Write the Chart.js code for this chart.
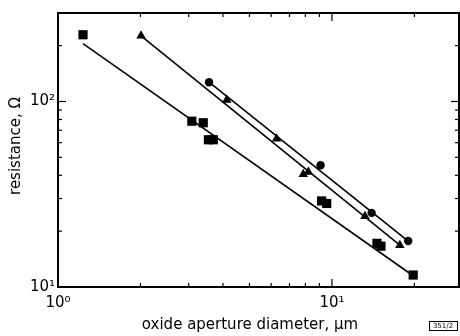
<!DOCTYPE html>
<html><head><meta charset="utf-8">
<script src="https://cdn.jsdelivr.net/npm/chart.js@4/dist/chart.umd.min.js"></script>
<style>html,body{margin:0;padding:0;background:#fff}</style>
</head><body>
<canvas id="c" width="460" height="336"></canvas>
<script>
// Squares
const squareX = [1.234, 3.08, 3.39, 3.54, 3.69, 9.17, 9.57, 14.6, 15.1, 19.8];
const squareY = [229, 78.3, 76.8, 62.2, 62.2, 29.1, 28.2, 17.2, 16.6, 11.6];
// Triangles
const triX = [2.01, 4.13, 6.28, 7.86, 8.2, 13.2, 17.7];
const triY = [226, 102, 63, 40.5, 41.7, 24.1, 16.8];
// Circles
const circX = [3.56, 9.09, 13.96, 18.99];
const circY = [127, 45.3, 25.1, 17.7];
// Fitted lines (endpoints)
const squareFitX = [1.234, 19.8];
const squareFitY = [205, 11.5];
const triFitX = [2.01, 17.7];
const triFitY = [226, 16.8];
const circFitX = [3.56, 18.99];
const circFitY = [127, 17.7];
// Axis ranges & labels
const xRange = [1, 29.1];
const yRange = [10, 300];
const xLabels = {1: '10\u2070', 10: '10\u00B9'};
const yLabels = {10: '10\u00B9', 100: '10\u00B2'};
const xTitle = 'oxide aperture diameter, \u03BCm';
const yTitle = 'resistance, \u03A9';
const figTag = '351/2';

const pts = (xs, ys) => xs.map((x, i) => ({x, y: ys[i]}));
const FONT = '"DejaVu Sans", sans-serif';

const frame = {
  id: 'frame',
  afterDraw(chart) {
    const {ctx, chartArea: a, scales: {x, y}} = chart;
    ctx.save();
    ctx.strokeStyle = '#000';
    ctx.lineWidth = 2;
    ctx.strokeRect(a.left, a.top, a.right - a.left, a.bottom - a.top);
    ctx.lineWidth = 1.2;
    const ln = (x1, y1, x2, y2) => { ctx.beginPath(); ctx.moveTo(x1, y1); ctx.lineTo(x2, y2); ctx.stroke(); };
    const info = v => {
      const e = Math.floor(Math.log10(v) + 1e-9);
      const lead = v / Math.pow(10, e);
      return {ok: Math.abs(lead - Math.round(lead)) < 1e-6, major: Math.abs(lead - 1) < 1e-6};
    };
    x.ticks.forEach(t => {
      const v = t.value; if (v <= x.min || v >= x.max) return;
      const f = info(v); if (!f.ok) return;
      const p = x.getPixelForValue(v), L = f.major ? 8 : 4;
      ln(p, a.bottom, p, a.bottom - L); ln(p, a.top, p, a.top + L);
    });
    y.ticks.forEach(t => {
      const v = t.value; if (v <= y.min || v >= y.max) return;
      const f = info(v); if (!f.ok) return;
      const p = y.getPixelForValue(v), L = f.major ? 8 : 4;
      ln(a.left, p, a.left + L, p); ln(a.right, p, a.right - L, p);
    });
    ctx.fillStyle = '#000';
    ctx.font = '15px ' + FONT;
    ctx.textAlign = 'center'; ctx.textBaseline = 'middle';
    ctx.fillText(xTitle, 250, 325);
    ctx.save();
    ctx.translate(16, 146); ctx.rotate(-Math.PI / 2);
    ctx.fillText(yTitle, 0, 0);
    ctx.restore();
    ctx.font = '7px ' + FONT;
    ctx.fillText(figTag, 443, 326);
    ctx.lineWidth = 1;
    ctx.strokeRect(429.5, 321.5, 28, 9);
    ctx.restore();
  }
};

new Chart(document.getElementById('c'), {
  data: {
    datasets: [
      {type: 'line', data: pts(squareFitX, squareFitY), borderColor: '#000', borderWidth: 1.6, pointRadius: 0, fill: false, order: 2},
      {type: 'line', data: pts(triFitX, triFitY), borderColor: '#000', borderWidth: 1.6, pointRadius: 0, fill: false, order: 2},
      {type: 'line', data: pts(circFitX, circFitY), borderColor: '#000', borderWidth: 1.6, pointRadius: 0, fill: false, order: 2},
      {type: 'scatter', data: pts(squareX, squareY), pointStyle: 'rect', pointRadius: 6.5, backgroundColor: '#000', borderColor: '#000', borderWidth: 0, order: 1},
      {type: 'scatter', data: pts(triX, triY), pointStyle: 'triangle', pointRadius: 5.5, backgroundColor: '#000', borderColor: '#000', borderWidth: 0, order: 1},
      {type: 'scatter', data: pts(circX, circY), pointStyle: 'circle', pointRadius: 4.2, backgroundColor: '#000', borderColor: '#000', borderWidth: 0, order: 1}
    ]
  },
  options: {
    responsive: false,
    animation: false,
    events: [],
    layout: {autoPadding: false, padding: {top: 13, right: 1, left: 0, bottom: 0}},
    plugins: {legend: {display: false}, tooltip: {enabled: false}},
    scales: {
      x: {
        type: 'logarithmic', position: 'bottom', min: xRange[0], max: xRange[1],
        grid: {display: false, drawTicks: false},
        border: {display: false},
        afterFit: s => { s.height = 49; s.paddingLeft = 0; s.paddingRight = 0; },
        ticks: {
          autoSkip: false, maxRotation: 0, padding: 7, color: '#000',
          font: {family: FONT, size: 15},
          callback: v => xLabels[v] || ''
        }
      },
      y: {
        type: 'logarithmic', position: 'left', min: yRange[0], max: yRange[1],
        grid: {display: false, drawTicks: false},
        border: {display: false},
        afterFit: s => { s.width = 58; s.paddingTop = 0; s.paddingBottom = 0; },
        ticks: {
          autoSkip: false, padding: 3, color: '#000',
          font: {family: FONT, size: 15},
          callback: v => yLabels[v] || ''
        }
      }
    }
  },
  plugins: [frame]
});
</script>
</body></html>
